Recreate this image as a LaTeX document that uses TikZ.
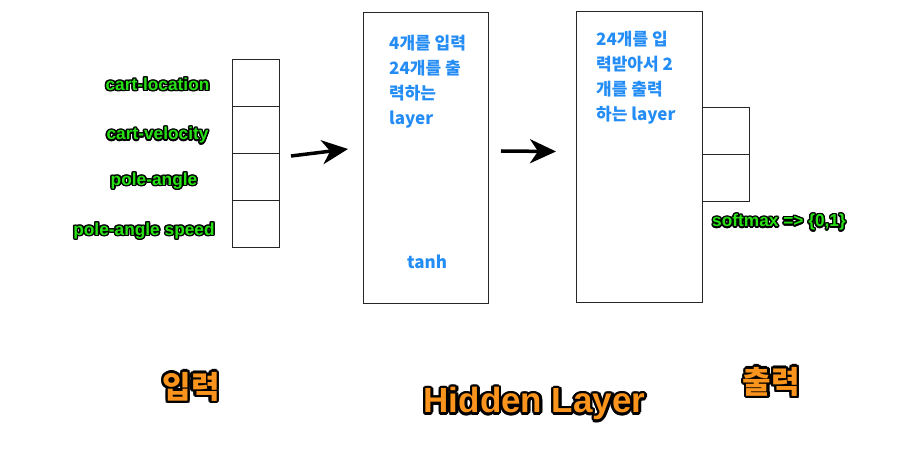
\documentclass[tikz,border=0pt]{standalone}
\usepackage{fontspec}
\setmainfont{Liberation Sans}
\newfontfamily\krfont{Noto Sans CJK KR}
\usepackage[copies]{contour}
\usetikzlibrary{positioning,arrows.meta}
\definecolor{lblgreen}{RGB}{40,225,20}
\definecolor{lblblue}{RGB}{35,140,245}
\definecolor{lblorange}{RGB}{250,148,28}

\begin{document}
\begin{tikzpicture}[x=1pt,y=-1pt,
    cell/.style={draw=black!85, line width=1pt, minimum width=47pt, minimum height=47pt, inner sep=0pt, outer sep=0pt},
    layerbox/.style={draw=black!85, line width=1pt, minimum width=125pt, minimum height=291pt, inner sep=0pt, outer sep=0pt},
    feat/.style={text=lblgreen, inner sep=0pt, font=\bfseries\fontsize{17.3}{20}\selectfont},
    note/.style={text=lblblue, align=left, anchor=north west, inner sep=0pt, font=\krfont\bfseries\fontsize{17}{25.3}\selectfont},
    title/.style={text=lblorange, inner sep=0pt, font=\bfseries\fontsize{35}{40}\selectfont},
    krtitle/.style={title, font=\krfont\bfseries\fontsize{31}{36}\selectfont},
    bigarrow/.style={-{Stealth[length=26pt,width=24pt,inset=8pt]}, line width=3.5pt}
  ]
  \useasboundingbox (0,0) rectangle (911,470);

  % input cells
  \node[cell] (in1) at (255.5,83.5) {};
  \node[cell, below=0pt of in1] (in2) {};
  \node[cell, below=0pt of in2] (in3) {};
  \node[cell, below=0pt of in3] (in4) {};

  \node[feat] (f1) at (157.5,85) {\contourlength{1.4pt}\contour{black}{cart-location}};
  \node[feat] (f2) at (157.5,136) {\contourlength{1.4pt}\contour{black}{cart-velocity}};
  \node[feat] (f3) at (154,181.7) {\contourlength{1.4pt}\contour{black}{pole-angle}};
  \node[feat] (f4) at (144,231.7) {\contourlength{1.4pt}\contour{black}{pole-angle speed}};

  % hidden layers
  \node[layerbox] (h1) at (425.5,158.5) {};
  \node[layerbox, minimum width=126pt] (h2) at (639,157.5) {};

  \node[note] (t1) at (389,34.5) {4개를 입력\\24개를 출\\력하는\\layer};
  \node[note] (t2) at (596,30.5) {24개를 입\\력받아서 2\\개를 출력\\하는 layer};
  \node[note, anchor=center] (t3) at (427,262) {tanh};

  % output cells
  \node[cell] (o1) at (725.5,131) {};
  \node[cell, below=0pt of o1] (o2) {};
  \node[feat] (f5) at (779,223) {\contourlength{1.4pt}\contour{black}{softmax => \{0,1\}}};

  \draw[bigarrow] ([shift={(12,2)}]in2.south east) -- ([shift={(-15,-9.5)}]h1.west);
  \draw[bigarrow] ([shift={(13,-7.5)}]h1.east) -- ([shift={(-20,-6)}]h2.west);

  % titles
  \node[krtitle] (ttl1) at (191,388) {\contourlength{2.4pt}\contour{black}{입력}};
  \node[title] (ttl2) at (534.5,405) {\contourlength{2.4pt}\contour{black}{Hidden Layer}};
  \node[krtitle] (ttl3) at (771.5,383) {\contourlength{2.4pt}\contour{black}{출력}};
\end{tikzpicture}
\end{document}
